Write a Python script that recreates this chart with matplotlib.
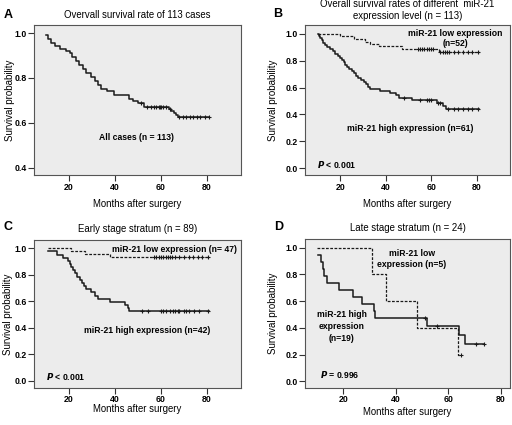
import numpy as np
import matplotlib
matplotlib.use('Agg')
import matplotlib.pyplot as plt
from matplotlib.ticker import FormatStrFormatter

plt.rcParams['font.family'] = ['Liberation Sans', 'DejaVu Sans']
plt.rcParams['font.weight'] = 'bold'

#----------------------------
#   Kaplan-Meier step data
#----------------------------

# A: all cases
a_start = (10, 0.991)
a_times = [11, 12, 14, 16, 18.5, 20.5, 21.5, 23, 24.5, 26, 27.5, 29.5, 31.5, 32.5, 34,
           36.5, 39.5, 46, 48, 50, 52.5, 63.5, 64.5, 65.5, 66.5, 67.5]
a_surv = [0.973, 0.956, 0.942, 0.930, 0.920, 0.912, 0.894, 0.876, 0.858, 0.840, 0.823,
          0.805, 0.787, 0.770, 0.752, 0.743, 0.726, 0.708, 0.699, 0.690, 0.673, 0.664,
          0.655, 0.645, 0.636, 0.627]
a_end = 81
a_cens = [51.5, 54, 55.5, 57, 58, 59, 59.5, 60, 61, 62, 64, 68, 69.5, 71, 72.5, 74, 75.5, 77, 79, 81]

# B: overall, low / high expression
b_low_start = (10, 1.0)
b_low_times = [20, 26, 31, 33, 37, 47, 63.5]
b_low_surv = [0.981, 0.962, 0.943, 0.925, 0.906, 0.887, 0.862]
b_low_end = 81
b_low_cens = [54, 55, 56, 57, 58, 59, 60, 61, 64, 65, 66, 67, 68, 70, 72, 74, 76, 78, 80.5]

b_high_start = (10, 1.0)
b_high_times = [10.5, 11.2, 11.8, 12.4, 13.2, 14, 15.5, 16.8, 17.8, 19, 20, 20.8, 21.5, 22.2,
                23, 24, 25, 26, 27, 28, 29, 30.5, 31.5, 32.2, 33, 37.7, 41.8, 44.5, 46,
                51.5, 62.5, 65, 66.5]
b_high_surv = [0.984, 0.967, 0.951, 0.934, 0.918, 0.902, 0.885, 0.869, 0.852, 0.836, 0.820,
               0.803, 0.787, 0.770, 0.754, 0.738, 0.721, 0.705, 0.689, 0.672, 0.656, 0.639,
               0.623, 0.607, 0.590, 0.574, 0.557, 0.541, 0.525, 0.508, 0.487, 0.465, 0.443]
b_high_end = 81
b_high_cens = [48, 55, 58, 59, 60, 63, 64, 67.5, 70, 72, 74, 76, 78, 80.5]

# C: early stage
c_low_start = (11, 1.0)
c_low_times = [21, 27, 38]
c_low_surv = [0.979, 0.957, 0.936]
c_low_end = 81
c_low_cens = [57, 58, 59, 60, 61, 62, 63, 64, 65, 66, 68, 70, 72, 74, 76, 78, 80.5]

c_high_start = (11, 0.976)
c_high_times = [15, 17.3, 19.5, 20.5, 21, 21.7, 22.8, 23.6, 24.6, 25.5, 26.5, 27.5, 29.5,
                31.2, 32.6, 37.7, 44.3, 45.5, 46.3]
c_high_surv = [0.952, 0.929, 0.905, 0.881, 0.857, 0.833, 0.810, 0.786, 0.762, 0.738, 0.714,
               0.690, 0.667, 0.643, 0.619, 0.595, 0.571, 0.548, 0.524]
c_high_end = 81
c_high_cens = [51.6, 54.5, 59.9, 61, 62.2, 63.9, 65.1, 66.1, 67.2, 68, 70.1, 71, 72.4, 74.5,
               76.4, 80.5]

# D: late stage
d_low_start = (10, 1.0)
d_low_times = [30.8, 36.3, 48, 63.5]
d_low_surv = [0.8, 0.6, 0.4, 0.2]
d_low_end = 65
d_low_cens = [65]

d_high_start = (10.4, 0.947)
d_high_times = [11.4, 12.2, 12.5, 13.8, 18.3, 23.8, 27.3, 31.8, 31.9, 52, 64, 66.5]
d_high_surv = [0.895, 0.842, 0.789, 0.737, 0.684, 0.632, 0.579, 0.526, 0.474, 0.414, 0.345, 0.276]
d_high_end = 73.7
d_high_cens = [51, 55.5, 70.5, 73.5]


def km(ax, start, times, surv, end, cens, dashed=False):
    x = [start[0]] + list(times) + [end]
    y = [start[1]] + list(surv) + [surv[-1]]
    ls = (0, (2.2, 1.2)) if dashed else '-'
    lw = 0.9 if dashed else 1.1
    ax.step(x, y, where='post', color='#1a1a1a', linestyle=ls, linewidth=lw)
    # censored marks sit on the curve
    xs = np.array(x)
    ys = np.array(y)
    idx = np.searchsorted(xs, cens, side='right') - 1
    ax.plot(cens, ys[idx], linestyle='none', marker='+', color='#1a1a1a',
            markersize=3.5, markeredgewidth=0.8)


def style(ax, xlim, ylim, yticks, xlab_y, ylab_x, tick_pad=1.5):
    ax.set_facecolor('#ececec')
    ax.set_xlim(*xlim)
    ax.set_ylim(*ylim)
    ax.set_xticks([20, 40, 60, 80])
    ax.set_yticks(yticks)
    ax.yaxis.set_major_formatter(FormatStrFormatter('%.1f'))
    ax.tick_params(labelsize=6.3, length=4, width=0.8, color='#333333', pad=1.2)
    ax.tick_params(axis='x', pad=tick_pad)
    for s in ax.spines.values():
        s.set_color('#555555')
        s.set_linewidth(0.8)
    ax.set_xlabel('Months after surgery', fontsize=6.9)
    ax.set_ylabel('Survival probability', fontsize=7.0)
    ax.xaxis.set_label_coords(0.5, xlab_y)
    ax.yaxis.set_label_coords(ylab_x, 0.5)


W, H = 512, 425
fig = plt.figure(figsize=(5.12, 4.25), dpi=100)

def box(l, t, r, b):
    return [l / W, 1 - b / H, (r - l) / W, (b - t) / H]

axA = fig.add_axes(box(34, 25, 241, 175))
axB = fig.add_axes(box(305, 25, 510, 175))
axC = fig.add_axes(box(34, 240, 241, 388))
axD = fig.add_axes(box(305, 239, 510, 388))

yt01 = [0.0, 0.2, 0.4, 0.6, 0.8, 1.0]

#------------- A -------------#
km(axA, a_start, a_times, a_surv, a_end, a_cens)
style(axA, (4.8, 94.8), (0.368, 1.036), [0.4, 0.6, 0.8, 1.0], -0.163, -0.093)
axA.set_title('Overvall survival rate of 113 cases', fontsize=6.9, pad=5)
axA.text(49.4, 0.536, 'All cases (n = 113)', fontsize=6.2, ha='center', va='center')

#------------- B -------------#
km(axB, b_low_start, b_low_times, b_low_surv, b_low_end, b_low_cens, dashed=True)
km(axB, b_high_start, b_high_times, b_high_surv, b_high_end, b_high_cens)
style(axB, (4.5, 94.7), (-0.052, 1.066), yt01, -0.157, -0.13)
axB.set_title('Overall survival rates of different  miR-21\nexpression level (n = 113)',
              fontsize=6.9, pad=4, linespacing=1.3)
axB.text(70.5, 1.0, 'miR-21 low expression', fontsize=6.2, ha='center', va='center')
axB.text(70.5, 0.925, '(n=52)', fontsize=6.2, ha='center', va='center')
axB.text(50.7, 0.295, 'miR-21 high expression (n=61)', fontsize=6.2, ha='center', va='center')
axB.text(9.7, 0.025, '$\\mathbfit{P}$ < 0.001', fontsize=6.2, ha='left', va='center')

#------------- C -------------#
km(axC, c_low_start, c_low_times, c_low_surv, c_low_end, c_low_cens, dashed=True)
km(axC, c_high_start, c_high_times, c_high_surv, c_high_end, c_high_cens)
style(axC, (4.8, 94.8), (-0.055, 1.062), yt01, -0.11, -0.1, tick_pad=0.8)
axC.set_title('Early stage stratum (n = 89)', fontsize=6.9, pad=6)
axC.text(65.7, 0.99, 'miR-21 low expression (n= 47)', fontsize=6.2, ha='center', va='center')
axC.text(53.8, 0.376, 'miR-21 high expression (n=42)', fontsize=6.2, ha='center', va='center')
axC.text(9.8, 0.03, '$\\mathbfit{P}$ < 0.001', fontsize=6.2, ha='left', va='center')

#------------- D -------------#
km(axD, d_low_start, d_low_times, d_low_surv, d_low_end, d_low_cens, dashed=True)
km(axD, d_high_start, d_high_times, d_high_surv, d_high_end, d_high_cens)
style(axD, (5.4, 83.5), (-0.05, 1.065), yt01, -0.125, -0.13, tick_pad=1.2)
axD.set_title('Late stage stratum (n = 24)', fontsize=6.9, pad=6)
axD.text(46, 0.917, 'miR-21 low\nexpression (n=5)', fontsize=6.2, ha='center', va='center',
         linespacing=1.25)
axD.text(19.4, 0.41, 'miR-21 high\nexpression\n(n=19)', fontsize=6.2, ha='center', va='center',
         linespacing=1.4)
axD.text(11, 0.05, '$\\mathbfit{P}$ = 0.996', fontsize=6.2, ha='left', va='center')

#------------- panel letters -------------#
for lab, px, py in [('A', 8, 15), ('B', 278, 14), ('C', 8, 227), ('D', 279, 227)]:
    fig.text(px / W, 1 - py / H, lab, fontsize=9, fontweight='bold', ha='center', va='center')

plt.savefig('out.png', dpi=100)
